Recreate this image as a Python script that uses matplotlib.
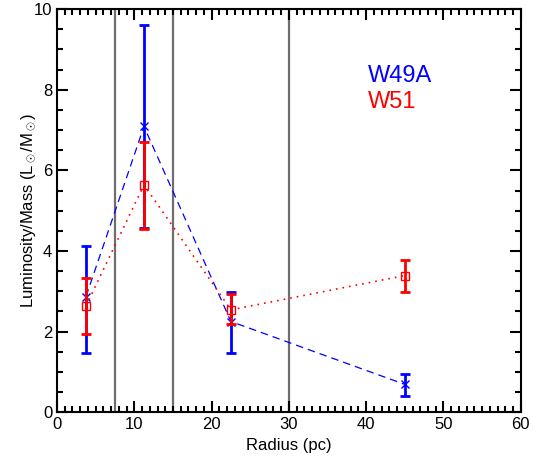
import matplotlib
matplotlib.use("Agg")
import matplotlib.pyplot as plt
from matplotlib.ticker import MultipleLocator

plt.rcParams["font.family"] = ["Liberation Sans", "DejaVu Sans"]
plt.rcParams["mathtext.fontset"] = "custom"
plt.rcParams["mathtext.rm"] = "Liberation Sans"
plt.rcParams["mathtext.it"] = "Liberation Sans"

radius = [3.75, 11.25, 22.5, 45.0]

w49a = [2.87, 7.09, 2.25, 0.69]
w49a_lo = [1.47, 4.58, 1.48, 0.41]
w49a_hi = [4.13, 9.60, 2.99, 0.95]

w51 = [2.64, 5.64, 2.54, 3.39]
w51_lo = [1.95, 4.55, 2.18, 2.99]
w51_hi = [3.32, 6.70, 2.93, 3.78]

boundaries = [7.5, 15.0, 30.0]

fig = plt.figure(figsize=(5.33, 4.58), dpi=100)
ax = fig.add_axes([0.107, 0.10, 0.870, 0.880])

for b in boundaries:
    ax.axvline(b, color="#6e6e6e", lw=1.6, zorder=1)

err_b = [[v - l for v, l in zip(w49a, w49a_lo)], [h - v for v, h in zip(w49a, w49a_hi)]]
err_r = [[v - l for v, l in zip(w51, w51_lo)], [h - v for v, h in zip(w51, w51_hi)]]

ax.plot(radius, w49a, color="blue", ls=(0, (6, 4)), lw=0.9, marker="x", ms=5.5, mew=1, zorder=3)
ax.errorbar(radius, w49a, yerr=err_b, fmt="none", ecolor="blue", elinewidth=2, capsize=3.5, capthick=2, zorder=3)

ax.plot(radius, w51, color="red", ls=(0, (1, 3)), lw=1.2, marker="s", ms=6, mfc="none", mew=1, zorder=4)
ax.errorbar(radius, w51, yerr=err_r, fmt="none", ecolor="red", elinewidth=2, capsize=3.5, capthick=2, zorder=4)

ax.set_xlim(0, 60)
ax.set_ylim(0, 10)
ax.xaxis.set_major_locator(MultipleLocator(10))
ax.xaxis.set_minor_locator(MultipleLocator(1))
ax.yaxis.set_major_locator(MultipleLocator(2))
ax.yaxis.set_minor_locator(MultipleLocator(0.5))
ax.tick_params(which="both", direction="in", top=True, right=True, width=1.5, labelsize=12)
ax.tick_params(which="major", length=8)
ax.tick_params(which="minor", length=4)
for s in ax.spines.values():
    s.set_linewidth(1.5)

ax.set_xlabel("Radius (pc)", fontsize=12)
ax.set_ylabel(r"Luminosity/Mass (L$_\odot$/M$_\odot$)", fontsize=12, labelpad=-3)

ax.text(40.2, 8.2, "W49A", color="blue", fontsize=17)
ax.text(40.2, 7.55, "W51", color="red", fontsize=17)

fig.savefig("out.png", dpi=100)
